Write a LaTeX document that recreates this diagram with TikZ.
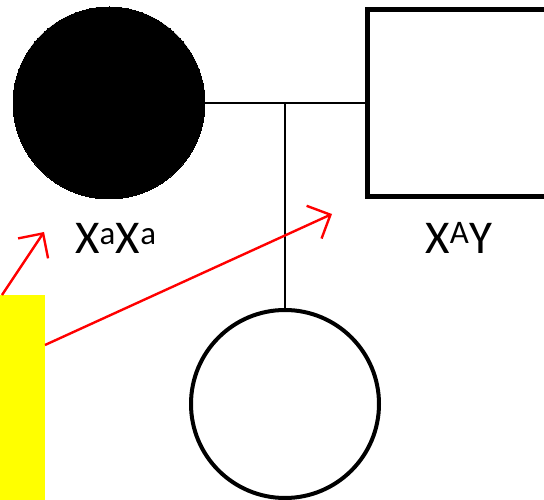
\documentclass[tikz,border=0pt]{standalone}
\usepackage{fontspec}
\setmainfont{Carlito}
\usetikzlibrary{arrows.meta}
\definecolor{hilite}{RGB}{255,255,0}
\definecolor{pointer}{RGB}{255,0,0}

\begin{document}
\begin{tikzpicture}[x=1pt, y=-1pt, line join=miter,
    female/.style={circle, draw, inner sep=0pt, minimum size=188pt, line width=4pt},
    male/.style={rectangle, draw, inner sep=0pt, minimum width=187pt, minimum height=187pt, line width=5pt},
    geno/.style={font=\fontsize{47}{50}\selectfont, inner sep=0pt},
    redarrow/.style={pointer, line width=2.4pt, -{Straight Barb[length=18pt,width=36pt,line width=2.4pt]}}]
  \useasboundingbox (0,0) rectangle (544,500); % identical box
  \clip (0,0) rectangle (544,500);

  % --- parents ---
  \node[female, fill=black, minimum size=192pt, line width=0pt] (mother) at (109,103) {};
  \node[male] (father) at (461,103) {};
  \coordinate (mate) at (285,103);
  \draw[line width=2pt] (mother.east) -- (father.west);

  % --- child ---
  \node[female] (daughter) at (285,404) {};
  \draw[line width=2pt] (mate) -- (daughter.north);

  % --- genotypes ---
  \node[geno, anchor=base] (gmother) at (116,254) {X\textsuperscript{a}X\textsuperscript{a}};
  \node[geno, anchor=base] (gfather) at (459,253) {X\textsuperscript{A}Y};

  % --- highlight marker ---
  \node[fill=hilite, inner sep=0pt, minimum width=45pt, minimum height=205pt, anchor=north west] (marker) at (0,295) {};
  \coordinate (tipm) at (44,232);
  \coordinate (tipf) at (332,214);
  \coordinate (startf) at (45,345);
  \draw[redarrow] ([xshift=2pt]marker.north west) -- (tipm);
  \draw[redarrow] (startf) -- (tipf);
\end{tikzpicture}
\end{document}
